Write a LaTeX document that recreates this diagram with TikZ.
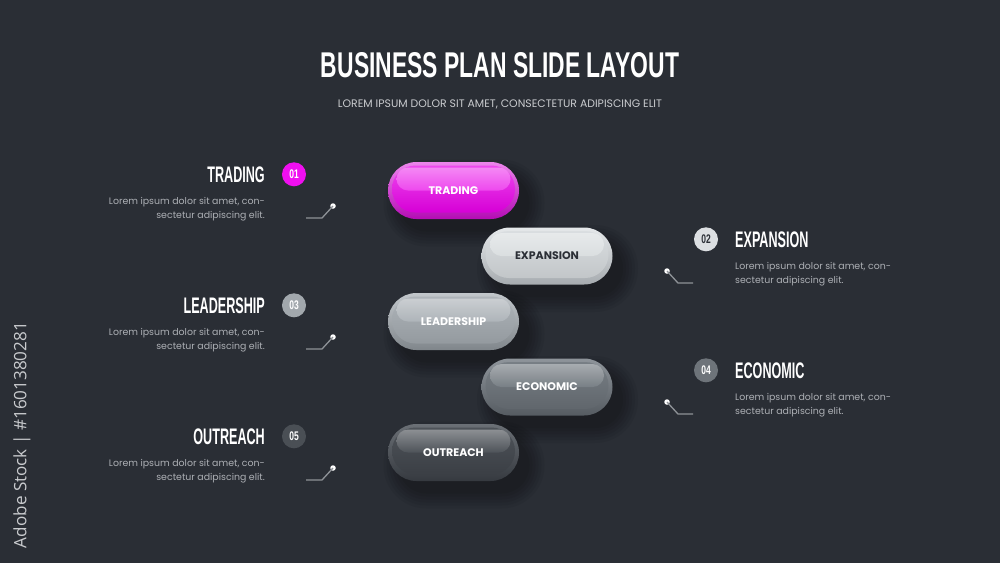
\documentclass[tikz,border=0pt]{standalone}
\usepackage{fontspec}
\usepackage{graphicx}
\setmainfont{Poppins}
\newfontfamily\headfont{Liberation Sans}
\newfontfamily\sidefont{Open Sans}

\definecolor{bg}{HTML}{2A2E35}
\definecolor{bodygray}{HTML}{ADB0B5}
\definecolor{subgray}{HTML}{C9CBCE}
\definecolor{conngray}{HTML}{8E9297}
\definecolor{darktxt}{HTML}{2B2F36}
\definecolor{magA}{HTML}{EC86EC}
\definecolor{magB}{HTML}{B40CB4}
\definecolor{magC}{HTML}{EE48EE}
\definecolor{magD}{HTML}{D600D6}
\definecolor{numA}{HTML}{F00FF0}
\definecolor{gA1}{HTML}{E6E9EB}
\definecolor{gA2}{HTML}{A6ABAF}
\definecolor{gA3}{HTML}{DADEE0}
\definecolor{gA4}{HTML}{C2C6C9}
\definecolor{gB1}{HTML}{C2C7CB}
\definecolor{gB2}{HTML}{80868B}
\definecolor{gB3}{HTML}{AEB4B9}
\definecolor{gB4}{HTML}{949A9F}
\definecolor{gC1}{HTML}{8F959B}
\definecolor{gC2}{HTML}{555B61}
\definecolor{gC3}{HTML}{787F85}
\definecolor{gC4}{HTML}{60666C}
\definecolor{gD1}{HTML}{6B7076}
\definecolor{gD2}{HTML}{35393F}
\definecolor{gD3}{HTML}{4E5359}
\definecolor{gD4}{HTML}{3B3F45}
\definecolor{num2}{HTML}{DCDFE2}
\definecolor{num3}{HTML}{A2A8AD}
\definecolor{num4}{HTML}{6E747A}
\definecolor{num5}{HTML}{4A4F55}

\newcommand{\headtxt}[1]{\scalebox{0.56}[1]{\headfont\bfseries\fontsize{22.5}{24}\selectfont #1}}
\newcommand{\numtxt}[1]{\scalebox{0.68}[1]{\headfont\bfseries\fontsize{12.5}{14}\selectfont #1}}
\newcommand{\loremtxt}{Lorem ipsum dolor sit amet, con-\\sectetur adipiscing elit.}

\tikzset{
  pillout/.style={rounded corners=28.5pt, minimum width=131pt, minimum height=57pt, inner sep=0pt},
  pillin/.style={rounded corners=23.5pt, minimum width=123pt, minimum height=47pt, inner sep=0pt},
  pillgloss/.style={rounded corners=11.5pt, minimum width=114pt, minimum height=23pt, inner sep=0pt},
  pilltext/.style={font=\fontsize{11}{13}\selectfont\bfseries, inner sep=0pt},
  numcirc/.style={circle, minimum size=24pt, inner sep=0pt},
  heading/.style={inner sep=0pt, text=white},
  bodytxt/.style={inner sep=0pt, text=bodygray, font=\fontsize{9.4}{13.5}\selectfont},
  conn/.style={draw=conngray, line width=1.3pt},
  dot/.style={circle, fill=white, minimum size=5.5pt, inner sep=0pt}
}

% #1 name, #2 cx, #3 cy, #4 label, #5 rim top, #6 rim bottom, #7 body top, #8 body bottom, #9 text colour
\newcommand{\pill}[9]{%
  \foreach \s in {0,3,...,15}{\fill[black,opacity=0.055,rounded corners={28+\s}] (#2-55-\s,#3-16-\s) rectangle (#2+76+\s,#3+41+\s);}
  \node[pillout, top color=#5, bottom color=#6] (#1) at (#2,#3) {};
  \node[pillin, top color=#7, bottom color=#8] (#1-in) at (#2,#3-1.5) {};
  \node[pillgloss, top color=#7!65!white, bottom color=#7] (#1-gl) at (#2,#3-11.5) {};
  \node[pilltext, text=#9] (#1-t) at (#2,#3) {#4};
}

\begin{document}
\begin{tikzpicture}[x=1pt,y=-1pt]
\fill[bg] (0,0) rectangle (1000,563);
\useasboundingbox (0,0) rectangle (1000,563);

% title
\node[inner sep=0pt, anchor=base, text=white] (title) at (500,77.7)
  {\resizebox{358pt}{25pt}{\headfont\bfseries BUSINESS PLAN SLIDE LAYOUT}};
\node[inner sep=0pt, anchor=base, text=subgray] (subtitle) at (500,107.5)
  {\resizebox{324pt}{!}{\fontsize{10}{12}\selectfont LOREM IPSUM DOLOR SIT AMET, CONSECTETUR ADIPISCING ELIT}};

% side text
\node[inner sep=0pt, rotate=90, text=subgray] (side) at (22,435)
  {\resizebox{226pt}{!}{\sidefont\fontsize{16}{18}\selectfont Adobe Stock | \#1601380281}};

% pills
\pill{p1}{453.5}{190.5}{TRADING}{magA}{magB}{magC}{magD}{white}
\pill{p2}{547}{256}{EXPANSION}{gA1}{gA2}{gA3}{gA4}{darktxt}
\pill{p3}{453.5}{321.5}{LEADERSHIP}{gB1}{gB2}{gB3}{gB4}{white}
\pill{p4}{547}{387}{ECONOMIC}{gC1}{gC2}{gC3}{gC4}{white}
\pill{p5}{453.5}{452.5}{OUTREACH}{gD1}{gD2}{gD3}{gD4}{white}

% left items
\node[heading, anchor=base east] (h1) at (265,182.5) {\headtxt{TRADING}};
\node[numcirc, fill=numA, text=white] (n1) at (294,174.3) {\numtxt{01}};
\node[bodytxt, align=right, anchor=north east] (t1) at (265,197.5) {\loremtxt};

\node[heading, anchor=base east] (h3) at (265,313.5) {\headtxt{LEADERSHIP}};
\node[numcirc, fill=num3, text=white] (n3) at (294,305.3) {\numtxt{03}};
\node[bodytxt, align=right, anchor=north east] (t3) at (265,328.5) {\loremtxt};

\node[heading, anchor=base east] (h5) at (265,444.5) {\headtxt{OUTREACH}};
\node[numcirc, fill=num5, text=white] (n5) at (294,436.3) {\numtxt{05}};
\node[bodytxt, align=right, anchor=north east] (t5) at (265,459.5) {\loremtxt};

% right items
\node[heading, anchor=base west] (h2) at (735,247.5) {\headtxt{EXPANSION}};
\node[numcirc, fill=num2, text=darktxt] (n2) at (706,239.3) {\numtxt{02}};
\node[bodytxt, align=left, anchor=north west] (t2) at (735,262.5) {\loremtxt};

\node[heading, anchor=base west] (h4) at (735,378.5) {\headtxt{ECONOMIC}};
\node[numcirc, fill=num4, text=white] (n4) at (706,370.3) {\numtxt{04}};
\node[bodytxt, align=left, anchor=north west] (t4) at (735,393.5) {\loremtxt};

% connectors left
\coordinate (c1a) at (306,218); \coordinate (c1b) at (322,218);
\node[dot] (d1) at (333,206) {};
\draw[conn] (c1a) -- (c1b) -- (d1.center);
\coordinate (c3a) at (306,349); \coordinate (c3b) at (322,349);
\node[dot] (d3) at (333,337) {};
\draw[conn] (c3a) -- (c3b) -- (d3.center);
\coordinate (c5a) at (306,480); \coordinate (c5b) at (322,480);
\node[dot] (d5) at (333,468) {};
\draw[conn] (c5a) -- (c5b) -- (d5.center);

% connectors right
\coordinate (c2a) at (693,283); \coordinate (c2b) at (678,283);
\node[dot] (d2) at (667,271) {};
\draw[conn] (c2a) -- (c2b) -- (d2.center);
\coordinate (c4a) at (693,414); \coordinate (c4b) at (678,414);
\node[dot] (d4) at (667,402) {};
\draw[conn] (c4a) -- (c4b) -- (d4.center);
\end{tikzpicture}
\end{document}
